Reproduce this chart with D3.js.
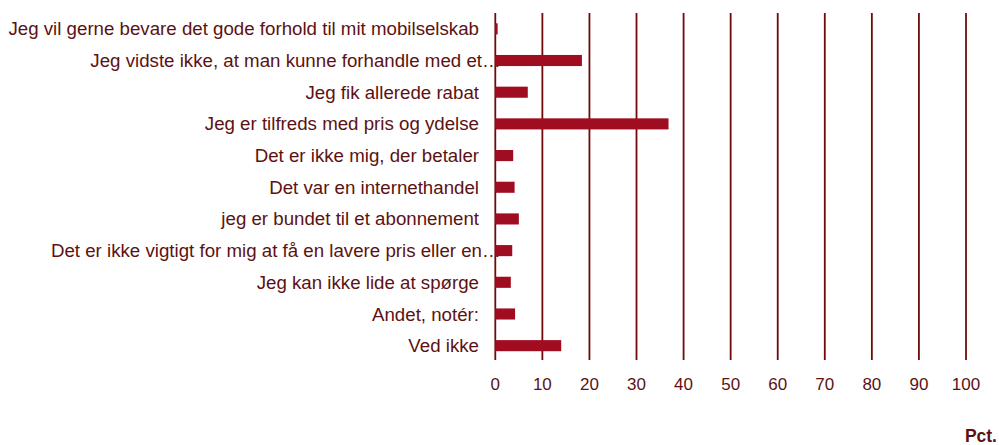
<!DOCTYPE html>
<html>
<head>
<meta charset="utf-8">
<script src="https://cdn.jsdelivr.net/npm/d3@7"></script>
<style>
  html, body { margin: 0; padding: 0; background: #fff; }
  svg { display: block; font-family: "Liberation Sans", Arial, sans-serif; }
</style>
</head>
<body>
<svg id="chart" width="999" height="445"></svg>
<script>
// Reasons given, share of respondents in percent
const categories = [
  "Jeg vil gerne bevare det gode forhold til mit mobilselskab",
  "Jeg vidste ikke, at man kunne forhandle med et…",
  "Jeg fik allerede rabat",
  "Jeg er tilfreds med pris og ydelse",
  "Det er ikke mig, der betaler",
  "Det var en internethandel",
  "jeg er bundet til et abonnement",
  "Det er ikke vigtigt for mig at få en lavere pris eller en…",
  "Jeg kan ikke lide at spørge",
  "Andet, notér:",
  "Ved ikke"
];
const values = [0.5, 18.4, 6.9, 36.8, 3.8, 4.1, 5.0, 3.6, 3.3, 4.2, 14.0];
const tickValues = [0, 10, 20, 30, 40, 50, 60, 70, 80, 90, 100];
const axisTitle = "Pct.";

const textColor = "#5c1212";
const gridColor = "#6e0a0a";
const barColor = "#a00c20";

const svg = d3.select("#chart");
const plot = { left: 495.3, right: 966, top: 13, bottom: 361.5 };

const x = d3.scaleLinear().domain([0, 100]).range([plot.left, plot.right]);
const y = d3.scaleBand().domain(categories).range([plot.top, plot.bottom]).paddingInner(0.65).paddingOuter(0.325);

// category labels (drawn first so a clipped ellipsis sits under the plot)
const labels = svg.append("g")
  .selectAll("g")
  .data(categories)
  .join("g")
  .attr("transform", d => `translate(0,${y(d) + y.bandwidth() / 2})`)
  .attr("fill", textColor)
  .attr("font-size", 18.7);

labels.append("text")
  .attr("x", d => d.endsWith("…") ? 482 : 479)
  .attr("dy", "0.35em")
  .attr("text-anchor", "end")
  .text(d => d.replace(/…$/, ""));

labels.filter(d => d.endsWith("…"))
  .append("text")
  .attr("x", 482)
  .attr("dy", "0.35em")
  .text("…");

// vertical grid lines
svg.append("g")
  .selectAll("line")
  .data(tickValues)
  .join("line")
  .attr("x1", d => x(d)).attr("x2", d => x(d))
  .attr("y1", plot.top).attr("y2", 360)
  .attr("stroke", gridColor)
  .attr("stroke-width", 1.8);

// bars
svg.append("g")
  .selectAll("rect")
  .data(categories)
  .join("rect")
  .attr("x", x(0))
  .attr("y", d => y(d))
  .attr("width", (d, i) => x(values[i]) - x(0))
  .attr("height", y.bandwidth())
  .attr("fill", barColor);

// x tick labels
svg.append("g")
  .selectAll("text")
  .data(tickValues)
  .join("text")
  .attr("x", d => x(d))
  .attr("y", 390)
  .attr("text-anchor", "middle")
  .attr("fill", textColor)
  .attr("font-size", 17)
  .text(d => d);

// axis title
svg.append("text")
  .attr("x", 997)
  .attr("y", 442)
  .attr("text-anchor", "end")
  .attr("fill", textColor)
  .attr("font-size", 17.5)
  .attr("font-weight", "bold")
  .text(axisTitle);
</script>
</body>
</html>
